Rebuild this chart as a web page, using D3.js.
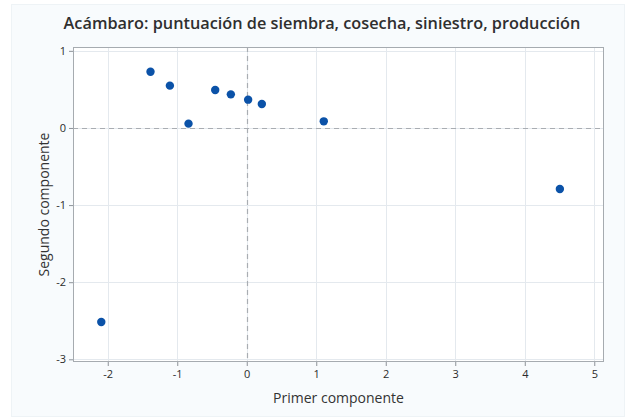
<!DOCTYPE html>
<html>
<head>
<meta charset="utf-8">
<script src="https://cdn.jsdelivr.net/npm/d3@7"></script>
<style>
  html, body { margin: 0; padding: 0; background: #ffffff; }
  svg { display: block; }
</style>
</head>
<body>
<svg id="chart" width="633" height="419"></svg>
<script>
// Component scores for each observation
const primerComponente = [-1.385, -1.106, -0.838, -0.454, -0.229, 0.02, 0.217, 1.108, 4.505, -2.093];
const segundoComponente = [0.73, 0.549, 0.056, 0.493, 0.436, 0.367, 0.311, 0.086, -0.791, -2.516];

const xTicks = [-2, -1, 0, 1, 2, 3, 4, 5];
const yTicks = [1, 0, -1, -2, -3];

const title = "Acámbaro: puntuación de siembra, cosecha, siniestro, producción";
const xTitle = "Primer componente";
const yTitle = "Segundo componente";

const W = 633, H = 419;
const plot = { left: 73, right: 604, top: 47, bottom: 362 };

const svg = d3.select("#chart");
const font = "'Open Sans', 'Noto Sans', sans-serif";

// Outer panel
svg.append("rect")
  .attr("x", 11.5).attr("y", 4.5)
  .attr("width", 613).attr("height", 412)
  .attr("fill", "#f8fbfd")
  .attr("stroke", "#eef3f6");

const x = d3.scaleLinear().domain([-2.5, 5.14]).range([plot.left, plot.right]);
const y = d3.scaleLinear().domain([-3.035, 1.05]).range([plot.bottom, plot.top]);

// Plot area background
svg.append("rect")
  .attr("x", plot.left).attr("y", plot.top)
  .attr("width", plot.right - plot.left).attr("height", plot.bottom - plot.top)
  .attr("fill", "#ffffff");

// Grid lines
const grid = svg.append("g").attr("stroke", "#e4e9ee").attr("stroke-width", 1);
grid.selectAll("line.vx").data(xTicks).join("line")
  .attr("x1", d => Math.round(x(d)) + 0.5).attr("x2", d => Math.round(x(d)) + 0.5)
  .attr("y1", plot.top).attr("y2", plot.bottom);
grid.selectAll("line.hy").data(yTicks).join("line")
  .attr("y1", d => Math.round(y(d)) + 0.5).attr("y2", d => Math.round(y(d)) + 0.5)
  .attr("x1", plot.left).attr("x2", plot.right);

// Reference lines at zero
const ref = svg.append("g").attr("stroke", "#a9adb2").attr("stroke-width", 1.2)
  .attr("stroke-dasharray", "5,4");
ref.append("line")
  .attr("x1", Math.round(x(0)) + 0.5).attr("x2", Math.round(x(0)) + 0.5)
  .attr("y1", plot.top).attr("y2", plot.bottom);
ref.append("line")
  .attr("y1", Math.round(y(0)) + 0.5).attr("y2", Math.round(y(0)) + 0.5)
  .attr("x1", plot.left).attr("x2", plot.right);

// Plot frame
svg.append("rect")
  .attr("x", plot.left + 0.5).attr("y", plot.top + 0.5)
  .attr("width", plot.right - plot.left - 1).attr("height", plot.bottom - plot.top - 1)
  .attr("fill", "none").attr("stroke", "#a6abb0");

// Axes
const xAxis = d3.axisBottom(x).tickValues(xTicks).tickSize(4).tickPadding(4).tickFormat(d => String(d));
const yAxis = d3.axisLeft(y).tickValues(yTicks).tickSize(4).tickPadding(3).tickFormat(d => String(d));

const gx = svg.append("g").attr("transform", `translate(0,${plot.bottom})`).call(xAxis);
const gy = svg.append("g").attr("transform", `translate(${plot.left},0)`).call(yAxis);
[gx, gy].forEach(g => {
  g.select(".domain").remove();
  g.selectAll(".tick line").attr("stroke", "#8e9399");
  g.selectAll(".tick text")
    .attr("fill", "#2b2b2b")
    .style("font-family", font)
    .style("font-size", "11px");
});

// Points
svg.append("g").selectAll("circle")
  .data(primerComponente.map((v, i) => [v, segundoComponente[i]]))
  .join("circle")
  .attr("cx", d => x(d[0]))
  .attr("cy", d => y(d[1]))
  .attr("r", 4.2)
  .attr("fill", "#0b52a8");

// Titles
svg.append("text")
  .attr("x", 322).attr("y", 29)
  .attr("text-anchor", "middle")
  .attr("fill", "#2f2f2f")
  .style("font-family", font)
  .style("font-size", "16.3px")
  .style("font-weight", 600)
  .text(title);

svg.append("text")
  .attr("x", (plot.left + plot.right) / 2).attr("y", 403)
  .attr("text-anchor", "middle")
  .attr("fill", "#333")
  .style("font-family", font)
  .style("font-size", "14px")
  .text(xTitle);

svg.append("text")
  .attr("transform", `translate(49,${(plot.top + plot.bottom) / 2}) rotate(-90)`)
  .attr("text-anchor", "middle")
  .attr("fill", "#333")
  .style("font-family", font)
  .style("font-size", "14px")
  .text(yTitle);
</script>
</body>
</html>
